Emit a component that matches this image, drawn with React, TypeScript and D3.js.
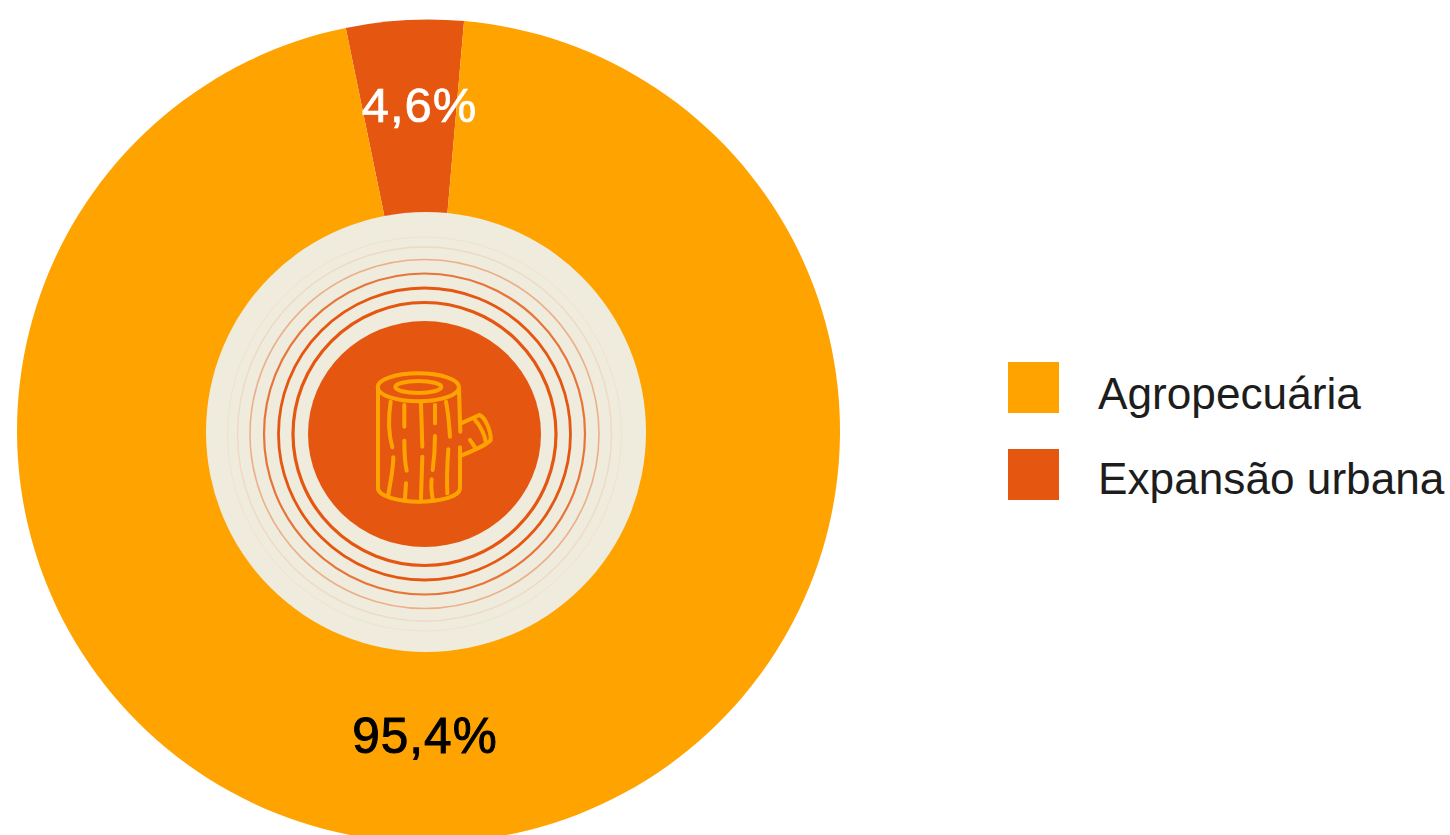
import React from "react";
import * as d3 from "d3";

// Share of each land-use driver, in percent
const categories = ["Expansão urbana", "Agropecuária"];
const shares = [4.6, 95.4];
const shareLabels = ["4,6%", "95,4%"];
const colors = ["#E55710", "#FFA300"];
const legendOrder = ["Agropecuária", "Expansão urbana"];
const ringRadii = [131.5, 146, 160.5, 174.5, 187, 197];
const ringWidths = [3.2, 2.8, 2.2, 1.6, 1.3, 1];
const ringOpacities = [1, 1, 0.8, 0.4, 0.12, 0.06];

const W = 1450;
const H = 835;
const cx = 428.5;
const cy = 431;
const outerR = 411.5;
const startDeg = -11.6;

const color = d3.scaleOrdinal<string, string>().domain(categories).range(colors);
const slices = d3
  .pie<number>()
  .sort(null)
  .startAngle((startDeg * Math.PI) / 180)
  .endAngle((startDeg * Math.PI) / 180 + 2 * Math.PI)(shares);
const arc = d3.arc<d3.PieArcDatum<number>>().innerRadius(0).outerRadius(outerR);

// Tree-trunk pictogram, drawn in a 450-unit box
const logPaths = [
  "M54,85 L54,385 C54,410 120,425 175,425 C240,425 300,410 300,385 L300,262",
  "M297,85 L301,215",
  "M303,190 L358,165 C375,170 394,215 392,240 C385,250 345,270 303,287",
  "M345,180 C360,195 375,225 378,248",
  "M330,240 L345,262",
  "M92,125 C85,170 85,220 97,262",
  "M133,135 L133,200",
  "M183,130 L187,260",
  "M225,135 L225,190",
  "M258,125 C265,160 268,200 270,230",
  "M133,242 C133,280 135,310 140,332",
  "M225,228 C225,260 222,300 218,330",
  "M100,292 C100,330 90,370 85,405",
  "M187,290 L183,415",
  "M265,268 C262,310 260,360 262,400",
  "M138,370 L135,415",
  "M215,358 C212,380 215,400 218,418",
];

const sans = "'Liberation Sans', Arial, sans-serif";

export default function App() {
  return (
    <svg
      width={W}
      height={H}
      viewBox={`0 0 ${W} ${H}`}
      style={{ position: "fixed", left: 0, top: 0, background: "#fff" }}
    >
      <g transform={`translate(${cx},${cy})`}>
        {slices.map((s, i) => (
          <path key={categories[i]} d={arc(s) ?? ""} fill={color(categories[i])} />
        ))}
      </g>

      <circle cx={426} cy={432} r={220} fill="#EFEBDD" />
      {ringRadii.map((r, i) => (
        <circle
          key={r}
          cx={424.5}
          cy={434}
          r={r}
          fill="none"
          stroke={colors[0]}
          strokeWidth={ringWidths[i]}
          strokeOpacity={ringOpacities[i]}
        />
      ))}
      <ellipse cx={424.5} cy={434} rx={116.5} ry={113} fill={colors[0]} />

      <g
        transform="translate(360,360) scale(0.3333)"
        fill="none"
        stroke={colors[1]}
        strokeWidth={12}
        strokeLinecap="round"
        strokeLinejoin="round"
      >
        <ellipse cx={175} cy={82} rx={122} ry={42} />
        <ellipse cx={175} cy={81} rx={69} ry={18} />
        {logPaths.map((d) => (
          <path key={d} d={d} />
        ))}
      </g>

      <text
        x={419.5}
        y={122}
        textAnchor="middle"
        fontFamily={sans}
        fontSize={49}
        letterSpacing={1}
        fill="#fff"
        stroke="#fff"
        strokeWidth={0.7}
      >
        {shareLabels[0]}
      </text>
      <text
        x={425}
        y={753}
        textAnchor="middle"
        fontFamily={sans}
        fontSize={49.5}
        letterSpacing={1}
        fill="#000"
        stroke="#000"
        strokeWidth={1}
      >
        {shareLabels[1]}
      </text>

      {legendOrder.map((name, i) => (
        <g key={name} transform={`translate(1008,${362 + i * 87})`}>
          <rect width={51} height={51} fill={color(name)} />
          <text x={90} y={47 - i * 2} fontFamily={sans} fontSize={44.2} fill="#1d1d1d">
            {name}
          </text>
        </g>
      ))}
    </svg>
  );
}
